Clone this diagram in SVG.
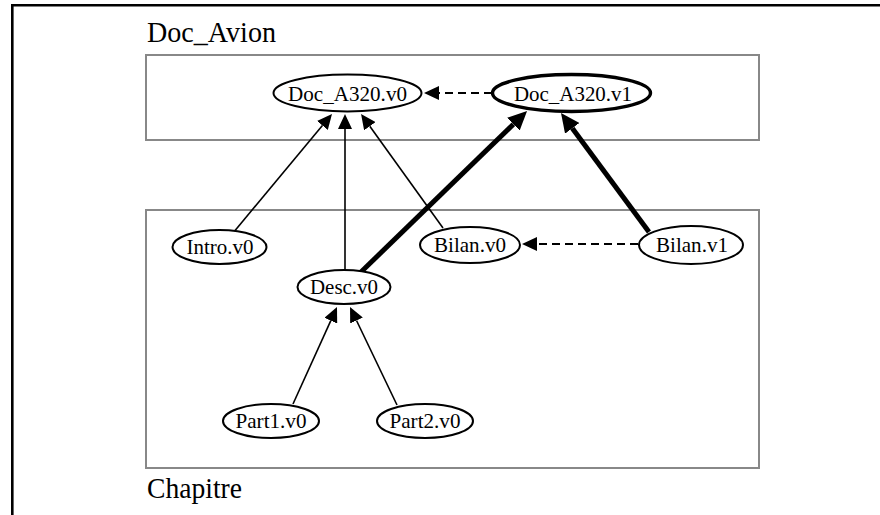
<svg xmlns="http://www.w3.org/2000/svg" width="880" height="515" viewBox="0 0 880 515">
<style>
.frame{fill:none;stroke:#000;stroke-width:2.6}
.cluster{fill:none;stroke:#888;stroke-width:2}
.clabel{font-family:"Liberation Serif","Times New Roman",serif;font-size:29px;fill:#000}
.node ellipse{fill:#fff;stroke:#000;stroke-width:2}
.node.bold ellipse{stroke-width:3.4}
.node text{font-family:"Liberation Serif","Times New Roman",serif;font-size:22px;fill:#000;text-anchor:middle}
.edge{fill:none;stroke:#000;stroke-width:1.6}
.edge.thick{stroke-width:5}
.edge.dash{stroke-width:2.2;stroke-dasharray:8,5}
</style>
<defs>
<marker id="arr" viewBox="0 0 15 14" refX="0" refY="7" markerWidth="15" markerHeight="14" markerUnits="userSpaceOnUse" orient="auto">
<path d="M0,0 L15,7 L0,14 Z" fill="#000"/>
</marker>
<marker id="arrB" viewBox="0 0 19 18" refX="0" refY="9" markerWidth="19" markerHeight="18" markerUnits="userSpaceOnUse" orient="auto">
<path d="M0,0 L19,9 L0,18 Z" fill="#000"/>
</marker>
</defs>
<rect width="880" height="515" fill="#fff"/>
<path class="frame" d="M12.3,515 V5.3 H880"/>
<g id="cluster-doc-avion">
<rect class="cluster" x="146" y="55" width="613" height="85"/>
<text class="clabel" x="147" y="42" textLength="129" lengthAdjust="spacingAndGlyphs">Doc_Avion</text>
</g>
<g id="cluster-chapitre">
<rect class="cluster" x="146" y="210" width="613" height="258"/>
<text class="clabel" x="147" y="498" textLength="95" lengthAdjust="spacingAndGlyphs">Chapitre</text>
</g>
<g id="connectors">
<line class="edge dash" x1="492" y1="93" x2="439" y2="93" marker-end="url(#arr)"/>
<line class="edge" x1="233" y1="233" x2="322.4" y2="125.5" marker-end="url(#arr)"/>
<line class="edge" x1="345" y1="270" x2="345" y2="129" marker-end="url(#arr)"/>
<line class="edge" x1="443" y1="228" x2="369.8" y2="126.2" marker-end="url(#arr)"/>
<line class="edge" x1="293" y1="404" x2="330.8" y2="320.7" marker-end="url(#arr)"/>
<line class="edge" x1="397" y1="405" x2="356.5" y2="320.5" marker-end="url(#arr)"/>
<line class="edge thick" x1="361" y1="272" x2="513.4" y2="124.2" marker-end="url(#arrB)"/>
<line class="edge thick" x1="649" y1="232" x2="572.3" y2="128.3" marker-end="url(#arrB)"/>
<line class="edge dash" x1="638" y1="244" x2="537" y2="244" marker-end="url(#arr)"/>
</g>
<g id="node-doc-a320-v0" class="node">
<ellipse cx="347.5" cy="93" rx="74" ry="18.5"/>
<text x="347.5" y="100.5" textLength="119" lengthAdjust="spacingAndGlyphs">Doc_A320.v0</text>
</g>
<g id="node-doc-a320-v1" class="node bold">
<ellipse cx="571.5" cy="93" rx="79" ry="18.5"/>
<text x="573" y="100.5" textLength="118" lengthAdjust="spacingAndGlyphs">Doc_A320.v1</text>
</g>
<g id="node-intro-v0" class="node">
<ellipse cx="219.5" cy="247" rx="47" ry="17"/>
<text x="220" y="254" textLength="67" lengthAdjust="spacingAndGlyphs">Intro.v0</text>
</g>
<g id="node-desc-v0" class="node">
<ellipse cx="344" cy="287" rx="46.5" ry="17"/>
<text x="344" y="294" textLength="68" lengthAdjust="spacingAndGlyphs">Desc.v0</text>
</g>
<g id="node-bilan-v0" class="node">
<ellipse cx="470" cy="245" rx="50" ry="18"/>
<text x="470" y="252" textLength="72" lengthAdjust="spacingAndGlyphs">Bilan.v0</text>
</g>
<g id="node-bilan-v1" class="node">
<ellipse cx="691" cy="245" rx="52" ry="19"/>
<text x="692" y="252" textLength="72" lengthAdjust="spacingAndGlyphs">Bilan.v1</text>
</g>
<g id="node-part1-v0" class="node">
<ellipse cx="271" cy="421" rx="48" ry="17"/>
<text x="271" y="428" textLength="71" lengthAdjust="spacingAndGlyphs">Part1.v0</text>
</g>
<g id="node-part2-v0" class="node">
<ellipse cx="425" cy="421" rx="48" ry="17"/>
<text x="425" y="428" textLength="71" lengthAdjust="spacingAndGlyphs">Part2.v0</text>
</g>
</svg>
